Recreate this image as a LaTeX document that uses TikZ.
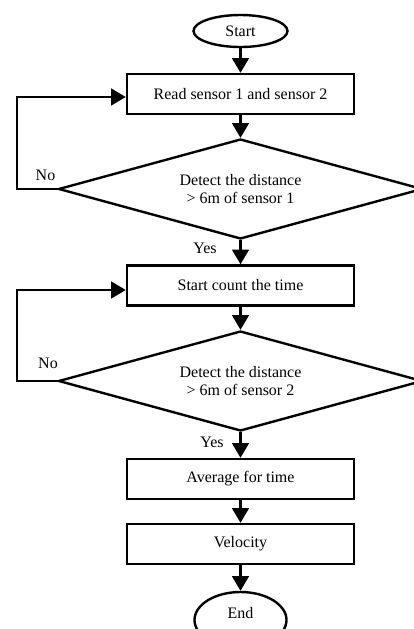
\documentclass[tikz,border=0pt]{standalone}
\usepackage{fontspec}
\setmainfont{Liberation Serif}
\usetikzlibrary{shapes.geometric,arrows.meta}

\tikzset{every picture/.style={line width=1.8pt}}
\tikzset{
  flowfont/.style={font=\fontsize{12}{13.5}\selectfont},
  procbox/.style={draw, rectangle, minimum width=170.25pt, minimum height=30pt, inner sep=0pt, flowfont},
  termbox/.style={draw, ellipse, minimum width=70.5pt, minimum height=24pt, inner sep=0pt, flowfont},
  decbox/.style={draw, diamond, aspect=3.64, minimum width=273pt, minimum height=75pt, inner sep=0pt, align=center, flowfont},
  flowlabel/.style={inner sep=0.75pt, flowfont},
  flowarrow/.style={-{Triangle[width=12.5pt,length=11pt]}},
}

\begin{document}
\begin{tikzpicture}[x=0.75pt,y=0.75pt,yscale=-1,xscale=1]
\clip (0,0) rectangle (414,629);

%Shape: Ellipse [id:start]
\node [termbox] (start) at (240.5,31) {Start};
%Shape: Rectangle [id:read]
\node [procbox] (read) at (240.5,94) {Read sensor 1 and sensor 2};
%Shape: Diamond [id:det1]
\node [decbox] (det1) at (240.5,189) {Detect the distance\\> 6m of sensor 1};
%Shape: Rectangle [id:count]
\node [procbox] (count) at (240.5,285.5) {Start count the time};
%Shape: Diamond [id:det2]
\node [decbox] (det2) at (240.5,381) {Detect the distance\\> 6m of sensor 2};
%Shape: Rectangle [id:avg]
\node [procbox] (avg) at (240.5,479) {Average for time};
%Shape: Rectangle [id:vel]
\node [procbox] (vel) at (240.5,544) {Velocity};
%Shape: Ellipse [id:stop]
\node [termbox, minimum width=69pt, minimum height=42pt, text depth=10.5pt] (stop) at (240.5,620) {End};

% Text Node
\node [flowlabel] (no1) at (45.5,175) {No};
% Text Node
\node [flowlabel] (yes1) at (205,248) {Yes};
% Text Node
\node [flowlabel] (no2) at (48,363) {No};
% Text Node
\node [flowlabel] (yes2) at (212,442) {Yes};

%Straight Lines
\draw [flowarrow] (start) -- (read);
\draw [flowarrow] (read) -- (det1);
\draw [flowarrow] (det1) -- (count);
\draw [flowarrow] (count) -- (det2);
\draw [flowarrow] (det2) -- (avg);
\draw [flowarrow] (avg) -- (vel);
\draw [flowarrow] (vel) -- (stop);

%Feedback Lines
\coordinate (loop1) at (17,97);
\coordinate (loop2) at (17,290);
\draw [flowarrow] (det1.west) -| (loop1) -- (loop1 -| read.west);
\draw [flowarrow] (det2.west) -| (loop2) -- (loop2 -| count.west);

\end{tikzpicture}
\end{document}
